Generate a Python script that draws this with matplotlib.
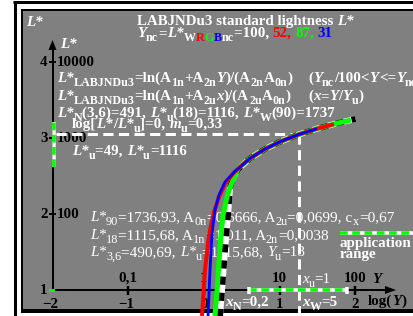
import matplotlib
matplotlib.use('Agg')
import numpy as np
import matplotlib.pyplot as plt
import matplotlib.transforms as mtransforms
from matplotlib.patches import Rectangle, Polygon

# ---------------- data (log10 Y, log10 L*) ----------------
bw_logY = [0.205, 0.211, 0.238, 0.277, 0.317, 0.343, 0.383, 0.45, 0.6, 0.8, 1.0, 1.25, 1.5, 1.75, 2.0]
bw_logL = [0.55, 0.658, 1.0, 1.526, 1.987, 2.342, 2.474, 2.59, 2.727, 2.852, 2.949, 3.046, 3.125, 3.192, 3.25]
green_logY = [0.14, 0.145, 0.172, 0.218, 0.251, 0.304, 0.356, 0.45, 0.6, 0.8, 1.0, 1.25, 1.5, 1.75, 1.94]
green_logL = [0.55, 0.658, 1.0, 1.658, 1.987, 2.224, 2.382, 2.602, 2.727, 2.852, 2.949, 3.046, 3.125, 3.192, 3.237]
red_logY = [-0.031, -0.026, 0.013, 0.066, 0.132, 0.198, 0.28, 0.4, 0.6, 0.8, 1.0, 1.25, 1.5, 1.716]
red_logL = [0.55, 0.658, 1.263, 1.724, 2.026, 2.224, 2.40, 2.551, 2.727, 2.852, 2.949, 3.046, 3.125, 3.183]
blue_logY = [0.048, 0.053, 0.079, 0.106, 0.145, 0.198, 0.277, 0.4, 0.6, 0.8, 1.0, 1.25, 1.491]
blue_logL = [0.55, 0.658, 1.263, 1.75, 2.053, 2.25, 2.421, 2.551, 2.727, 2.852, 2.949, 3.046, 3.122]

x_ticks = [-1, 0, 1, 2]
x_top_labels = ['0,1', '1', '10', '100']
x_bot_labels = ['\u22121', '0', '1', '2']
x_origin_label = '\u22122'
y_ticks = [1, 2, 3, 4]
y_left_labels = ['1', '2', '3', '4']
y_right_labels = ['', '100', '1000', '10000']

Y_u = 18
L_u = 1116
app_Y = [0.6, 1.89]      # log Y application range
app_L = [2.62, 3.21]     # log L* application range

W, H = 413, 316
fig = plt.figure(figsize=(W / 100, H / 100), dpi=100)
ax = fig.add_axes([0, 0, 1, 1])
ax.set_xlim(-204 / 75.75, (W - 204) / 75.75)
ax.set_ylim(1 - (H - 290) / 76, 1 + 290 / 76)
ax.axis('off')

T = mtransforms.Affine2D().scale(1, -1).translate(0, H)   # image pixels -> display
renderer = fig.canvas.get_renderer()
PX = 72 / 100.0  # points per pixel


def to_px(xd, yd):
    X, Y = ax.transData.transform((xd, yd))
    return X, H - Y


GRAY = '#808080'
GREEN = '#00ff00'
COLS = {'r': '#ff0000', 'g': GREEN, 'b': '#0000ff', 'w': 'white', 'k': 'black'}
FAM = 'Liberation Serif'

# ---------------- frame & background ----------------
ax.add_patch(Rectangle((23, 11), W - 23, 298, transform=T, facecolor=GRAY, edgecolor='none', zorder=0))
ax.plot([14.5, 14.5], [1.5, H], transform=T, color='black', lw=3 * PX, solid_capstyle='butt', zorder=1)
ax.plot([13, W], [1.5, 1.5], transform=T, color='black', lw=3 * PX, solid_capstyle='butt', zorder=1)
ax.plot([22, 22], [9, 313], transform=T, color='black', lw=2 * PX, solid_capstyle='butt', zorder=1)
ax.plot([21, W], [10, 10], transform=T, color='black', lw=2 * PX, solid_capstyle='butt', zorder=1)
ax.plot([21, W], [311.2, 311.2], transform=T, color='black', lw=4 * PX, solid_capstyle='butt', zorder=1)


# ---------------- rich text helper ----------------
def parse(s, sub=False, it=False, col=None, out=None):
    if out is None:
        out = []
    buf = ''
    i = 0
    while i < len(s):
        c = s[i]
        opener = None
        if c in '_@' and i + 1 < len(s) and s[i + 1] == '{':
            opener = i + 2
        elif c == '%' and i + 2 < len(s) and s[i + 2] == '{':
            opener = i + 3
        if opener is not None:
            if buf:
                out.append((buf, sub, it, col))
                buf = ''
            depth = 1
            j = opener
            while depth:
                if s[j] == '{':
                    depth += 1
                elif s[j] == '}':
                    depth -= 1
                j += 1
            inner = s[opener:j - 1]
            parse(inner, sub or c == '_', it or c == '@',
                  COLS[s[i + 1]] if c == '%' else col, out)
            i = j
        else:
            buf += c
            i += 1
    if buf:
        out.append((buf, sub, it, col))
    return out


def width(s, **kw):
    t = fig.text(0, 0, '|' + s + '|', **kw)
    w1 = t.get_window_extent(renderer).width
    t.remove()
    t = fig.text(0, 0, '||', **kw)
    w0 = t.get_window_extent(renderer).width
    t.remove()
    return w1 - w0


def rich(x, y, s, size=10.8, weight='bold', color='white', ha='left', z=2, subf=0.8):
    segs = parse(s)
    spx = size / PX
    items = []
    total = 0
    for txt, sub, it, col in segs:
        kw = dict(family=FAM, size=size * subf if sub else size, weight=weight,
                  style='italic' if it else 'normal')
        w = width(txt, **kw)
        items.append((txt, sub, col or color, kw, w))
        total += w
    cx = x - (total / 2 if ha == 'center' else total if ha == 'right' else 0)
    for txt, sub, col, kw, w in items:
        dy = 0.24 * spx if sub else 0
        ax.text(cx, y + dy, txt, transform=T, ha='left', va='baseline', color=col, zorder=z, **kw)
        cx += w
    return cx


# ---------------- texts ----------------
rich(26, 26, '@{L*}')
rich(137, 25, 'LABJNDu3 standard lightness @{L*}')
rich(137, 37, '@{Y}_{nc}=@{L*}_{W%r{R}%g{G}%b{B}nc}=100, %r{52,} %g{87,} %b{31}')
rich(60, 48, '@{L*}')

rich(57, 82, '@{L*}_{LABJNDu3}=ln(A_{1n}+A_{2n}@{Y})/(A_{2n}A_{0n})')
rich(308, 82, '(@{Y}_{nc}/100<@{Y}<=@{Y}_{nc})')
rich(57, 100, '@{L*}_{LABJNDu3}=ln(A_{1n}+A_{2u}@{x})/(A_{2u}A_{0n})')
rich(308, 100, '(@{x}=@{Y}/@{Y}_{u})')
rich(57, 117, '@{L*}_{N}(3,6)=491, @{L*}_{u}(18)=1116, @{L*}_{W}(90)=1737')
rich(72, 128, 'log[@{L*}/@{L*}_{u}]=0, @{m}_{u}=0,33')
rich(72, 155, '@{L*}_{u}=49, @{L*}_{u}=1116')

rich(90, 221, '@{L*}_{90}=1736,93, A_{0n}=0,6666, A_{2u}=0,0699, c_{x}=0,67', size=11.0, weight='normal')
rich(90, 239, '@{L*}_{18}=1115,68, A_{1n}=1,011, A_{2n}=0,0038', size=11.0, weight='normal')
rich(90, 256, '@{L*}_{3,6}=490,69, @{L*}_{u}=1115,68, @{Y}_{u}=18', size=11.0, weight='normal')

rich(340, 247, 'application')
rich(340, 258, 'range')

# axis labels
for v, lab_l, lab_r in zip(y_ticks, y_left_labels, y_right_labels):
    px, py = to_px(-2, v)
    rich(px - 5, py + 4.5, lab_l, color='black', ha='right')
    if lab_r:
        rich(px + 4, py + 4.5, lab_r, color='black')
for v, lt, lb in zip(x_ticks, x_top_labels, x_bot_labels):
    px, py = to_px(v, 1)
    rich(px, py - 8, lt, color='black', ha='center', z=1.5)
    rich(px - (2 if v < 0 else 0), py + 18, lb, color='black', ha='center', z=1.5)
px0, py0 = to_px(-2, 1)
rich(px0 - 2, py0 + 18, x_origin_label, color='black', ha='center')
rich(372, 283, '@{Y}', color='black')
rich(368, 305, 'log(@{Y})', color='black')
rich(302, 283, '@{x}_{u}=1', weight='normal')
rich(225, 306, '@{x}_{N}=0,2')
rich(302, 306, '@{x}_{W}=5')

# ---------------- axes ----------------
ax.plot([-2, -2], [1, 4.16], color='black', lw=2 * PX, zorder=3, solid_capstyle='butt')
ax.add_patch(Polygon([[-2 - 4 / 75.75, 4.158], [-2 + 4 / 75.75, 4.158], [-2, 4.289]],
                     closed=True, facecolor='black', edgecolor='none', zorder=3))
ax.plot([-2, 2.39], [1, 1], color='black', lw=2 * PX, zorder=3, solid_capstyle='butt')
ax.add_patch(Polygon([[2.389, 1 + 4 / 76], [2.389, 1 - 4 / 76], [2.535, 1]],
                     closed=True, facecolor='black', edgecolor='none', zorder=3))
for v in y_ticks[1:]:
    ax.plot([-2 - 3.5 / 75.75, -2 + 3.5 / 75.75], [v, v], color='black', lw=2 * PX, zorder=3,
            solid_capstyle='butt')
for v in x_ticks:
    ax.plot([v, v], [1 - 5 / 76, 1 + 4.5 / 76], color='black', lw=2.5 * PX, zorder=3,
            solid_capstyle='butt')

# dashed reference lines
lu, yu = np.log10(L_u), np.log10(Y_u)
ax.plot([-2 + 3 / 75.75, yu], [lu, lu], color='white', lw=3 * PX, dashes=(3.4, 1.8),
        dash_capstyle='butt', zorder=3.5)
ax.plot([yu, yu], [lu, 0.6], color='white', lw=3 * PX, dashes=(3.4, 1.8),
        dash_capstyle='butt', zorder=3.5)


# application range
def app_line(xs, ys, **kw):
    ax.plot(xs, ys, color='white', lw=3.5 * PX, solid_capstyle='butt', zorder=4, **kw)
    ax.plot(xs, ys, color=GREEN, lw=3.5 * PX, dashes=(2.2, 1.3), dash_capstyle='butt',
            zorder=4.1, **kw)


app_line(app_Y, [1, 1])
for v in app_Y:
    ax.plot([v, v], [1 - 3.5 / 76, 1 + 3.5 / 76], color='white', lw=3.5 * PX, zorder=4.2,
            solid_capstyle='butt')
app_line([-2 + 1.2 / 75.75] * 2, app_L)
app_line([340, W], [233, 233], transform=T)
ax.add_patch(Rectangle((49, 288.5), 6, 3.5, transform=T, facecolor=GREEN, edgecolor='none', zorder=4.3))

# ---------------- curves ----------------
ax.plot(bw_logY, bw_logL, color='white', lw=6 * PX, solid_capstyle='butt', zorder=5)
ax.plot(bw_logY, bw_logL, color='black', lw=6 * PX, dashes=(1.35, 1.35), dash_capstyle='butt', zorder=5.1)
ax.plot(green_logY, green_logL, color=GREEN, lw=5 * PX, solid_capstyle='butt', zorder=5.2)
ax.plot(red_logY, red_logL, color='#ff0000', lw=4 * PX, solid_capstyle='butt', zorder=5.3)
ax.plot(blue_logY, blue_logL, color='#0000ff', lw=2.8 * PX, solid_capstyle='butt', zorder=5.4)

fig.savefig('out.png', dpi=100, facecolor='white')
